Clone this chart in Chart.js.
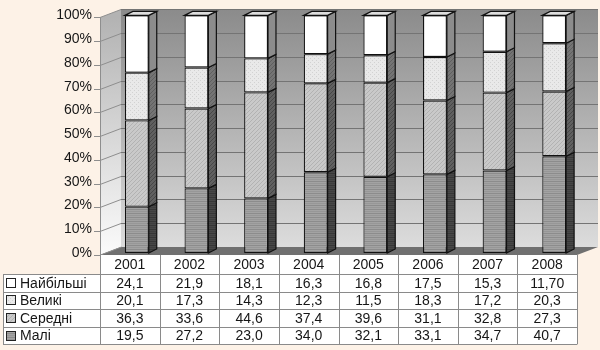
<!DOCTYPE html>
<html>
<head>
<meta charset="utf-8">
<script src="https://cdn.jsdelivr.net/npm/chart.js@4/dist/chart.umd.min.js"></script>
<style>
  html, body { margin: 0; padding: 0; background: #fdf2e7; }
  #wrap { width: 600px; height: 350px; }
</style>
</head>
<body>
<div id="wrap"><canvas id="chart" width="600" height="350"></canvas></div>
<script>
// Дані з діаграми (%, частки за розміром)
const years = ['2001', '2002', '2003', '2004', '2005', '2006', '2007', '2008'];
const seriesNames = ['Малі', 'Середні', 'Великі', 'Найбільші'];
const mali = ['19,5', '27,2', '23,0', '34,0', '32,1', '33,1', '34,7', '40,7'];
const seredni = ['36,3', '33,6', '44,6', '37,4', '39,6', '31,1', '32,8', '27,3'];
const velyki = ['20,1', '17,3', '14,3', '12,3', '11,5', '18,3', '17,2', '20,3'];
const naibilshi = ['24,1', '21,9', '18,1', '16,3', '16,8', '17,5', '15,3', '11,70'];
const yTicks = [0, 10, 20, 30, 40, 50, 60, 70, 80, 90, 100];

const FONT = "'Liberation Sans', Arial, sans-serif";
const toNum = s => Number(s.replace(',', '.'));

// 3D-ефекти: зсув передньої площини, глибина стін і стовпців
const FRONT_DX = 7, FRONT_DY = 2;
const WALL = { dx: 21, dy: 8 };
const BAR = { dx: 8, dy: 4 };

function makePattern(base, line, kind) {
  const c = document.createElement('canvas');
  c.width = 4; c.height = 4;
  const p = c.getContext('2d');
  p.fillStyle = base;
  p.fillRect(0, 0, 4, 4);
  if (!line) return p.createPattern(c, 'repeat');
  p.fillStyle = line;
  if (kind === 'h') {
    p.fillRect(0, 1, 4, 1);
    p.globalAlpha = 0.5;
    p.fillRect(0, 3, 4, 1);
  } else if (kind === 'd') {
    for (let i = 0; i < 4; i++) p.fillRect(i, 3 - i, 1, 1);
  } else {
    p.fillRect(0, 0, 1, 1);
    p.fillRect(2, 2, 1, 1);
  }
  return p.createPattern(c, 'repeat');
}

const frontFill = [
  makePattern('#a3a3a3', '#8c8c8c', 'h'),
  makePattern('#c9c9c9', '#b2b2b2', 'd'),
  makePattern('#e9e9e9', '#d2d2d2', 'p'),
  makePattern('#ffffff')
];
const sideFill = [
  makePattern('#474747', '#363636', 'h'),
  makePattern('#606060', '#474747', 'd'),
  makePattern('#747474', '#5f5f5f', 'd'),
  makePattern('#8c8c8c')
];
const values = [mali, seredni, velyki, naibilshi];

const pseudo3d = {
  id: 'pseudo3d',
  beforeDatasetsDraw(chart) {
    const { ctx, chartArea: a, scales: { y } } = chart;
    const fl = a.left - FRONT_DX, fr = a.right - FRONT_DX;
    const yTop = y.getPixelForValue(100) + FRONT_DY;
    const yBot = y.getPixelForValue(0) + FRONT_DY;
    ctx.save();

    // задня стінка
    let g = ctx.createLinearGradient(0, yTop - WALL.dy, 0, yBot - WALL.dy);
    g.addColorStop(0, '#8b8b8b');
    g.addColorStop(1, '#dcdcdc');
    ctx.fillStyle = g;
    ctx.fillRect(fl + WALL.dx, yTop - WALL.dy, fr - fl, yBot - yTop);

    // бічна стінка
    g = ctx.createLinearGradient(0, yTop, 0, yBot);
    g.addColorStop(0, '#b3b3b3');
    g.addColorStop(1, '#fbfbfb');
    ctx.fillStyle = g;
    ctx.beginPath();
    ctx.moveTo(fl, yTop);
    ctx.lineTo(fl + WALL.dx, yTop - WALL.dy);
    ctx.lineTo(fl + WALL.dx, yBot - WALL.dy);
    ctx.lineTo(fl, yBot);
    ctx.closePath();
    ctx.fill();

    // сітка
    ctx.lineWidth = 1;
    yTicks.forEach(v => {
      const py = Math.round(y.getPixelForValue(v) + FRONT_DY) + 0.5;
      if (v > 0) {
        ctx.strokeStyle = '#747474';
        ctx.beginPath();
        ctx.moveTo(fl + WALL.dx, py - WALL.dy);
        ctx.lineTo(fr + WALL.dx, py - WALL.dy);
        ctx.stroke();
      }
      ctx.strokeStyle = '#8e8e8e';
      ctx.beginPath();
      ctx.moveTo(fl - 6, py);
      ctx.lineTo(fl, py);
      ctx.lineTo(fl + WALL.dx, py - WALL.dy);
      ctx.stroke();
    });

    // підлога
    ctx.fillStyle = '#707070';
    ctx.beginPath();
    ctx.moveTo(fl, yBot);
    ctx.lineTo(fr, yBot);
    ctx.lineTo(fr + WALL.dx, yBot - WALL.dy);
    ctx.lineTo(fl + WALL.dx, yBot - WALL.dy);
    ctx.closePath();
    ctx.fill();

    // вісь
    ctx.strokeStyle = '#8e8e8e';
    ctx.beginPath();
    ctx.moveTo(fl + 0.5, yTop);
    ctx.lineTo(fl + 0.5, yBot);
    ctx.lineTo(fl + WALL.dx + 0.5, yBot - WALL.dy);
    ctx.stroke();
    ctx.restore();
  },

  afterDatasetsDraw(chart) {
    const { ctx } = chart;
    ctx.save();
    ctx.lineWidth = 1.2;
    ctx.strokeStyle = '#111';
    chart.data.datasets.forEach((ds, di) => {
      chart.getDatasetMeta(di).data.forEach(el => {
        const x1 = el.x + el.width / 2;
        const x0 = el.x - el.width / 2;
        const yt = el.y, yb = el.base;
        // бічна грань
        ctx.fillStyle = sideFill[di];
        ctx.beginPath();
        ctx.moveTo(x1, yt);
        ctx.lineTo(x1 + BAR.dx, yt - BAR.dy);
        ctx.lineTo(x1 + BAR.dx, yb - BAR.dy);
        ctx.lineTo(x1, yb);
        ctx.closePath();
        ctx.fill();
        ctx.stroke();
        // верхня грань
        if (di === chart.data.datasets.length - 1) {
          ctx.fillStyle = '#dedede';
          ctx.beginPath();
          ctx.moveTo(x0, yt);
          ctx.lineTo(x0 + BAR.dx, yt - BAR.dy);
          ctx.lineTo(x1 + BAR.dx, yt - BAR.dy);
          ctx.lineTo(x1, yt);
          ctx.closePath();
          ctx.fill();
          ctx.stroke();
        }
      });
    });
    ctx.restore();
  },

  afterDraw(chart) {
    // таблиця даних під діаграмою
    const { ctx, chartArea: a, scales: { x, y } } = chart;
    const colW = (a.right - a.left) / years.length;
    const left = a.left - FRONT_DX;
    const right = left + colW * years.length;
    const top = Math.round(y.getPixelForValue(0) + FRONT_DY);
    const headH = 19, rowH = 17.6;
    const legL = 3;
    const rows = [3, 2, 1, 0];
    const bottom = top + headH + rowH * rows.length;

    ctx.save();
    ctx.fillStyle = '#ffffff';
    ctx.fillRect(left, top, right - left, bottom - top);
    ctx.fillRect(legL, top + headH, left - legL, bottom - top - headH);

    ctx.strokeStyle = '#8a8a8a';
    ctx.lineWidth = 1;
    ctx.beginPath();
    for (let i = 0; i <= years.length; i++) {
      const cx = Math.round(left + colW * i) + 0.5;
      ctx.moveTo(cx, top);
      ctx.lineTo(cx, bottom);
    }
    ctx.moveTo(legL + 0.5, top + headH);
    ctx.lineTo(legL + 0.5, bottom);
    for (let r = 0; r <= rows.length; r++) {
      const ry = Math.round(top + headH + rowH * r) + 0.5;
      ctx.moveTo(r === 0 ? legL : left, ry);
      ctx.lineTo(right, ry);
      if (r > 0) { ctx.moveTo(legL, ry); ctx.lineTo(left, ry); }
    }
    ctx.stroke();

    ctx.font = '14px ' + FONT;
    ctx.fillStyle = '#161616';
    ctx.textAlign = 'center';
    ctx.textBaseline = 'middle';
    years.forEach((yr, i) => {
      const cx = x.getPixelForValue(i) - FRONT_DX;
      ctx.fillText(yr, cx, top + headH / 2 + 1);
      rows.forEach((di, r) => {
        ctx.fillText(values[di][i], cx, top + headH + rowH * r + rowH / 2 + 1);
      });
    });

    ctx.textAlign = 'left';
    rows.forEach((di, r) => {
      const cy = top + headH + rowH * r + rowH / 2;
      ctx.fillStyle = frontFill[di];
      ctx.fillRect(6.5, Math.round(cy) - 4.5, 9, 9);
      ctx.strokeStyle = '#222';
      ctx.strokeRect(6.5, Math.round(cy) - 4.5, 9, 9);
      ctx.fillStyle = '#161616';
      ctx.fillText(seriesNames[di], 20, cy + 1);
    });
    ctx.restore();
  }
};

new Chart(document.getElementById('chart'), {
  type: 'bar',
  data: {
    labels: years,
    datasets: values.map((arr, di) => ({
      label: seriesNames[di],
      data: arr.map(toNum),
      backgroundColor: frontFill[di],
      borderColor: '#111',
      borderWidth: 1.2,
      borderSkipped: false,
      categoryPercentage: 1,
      barPercentage: 0.4
    }))
  },
  options: {
    responsive: false,
    animation: false,
    layout: { padding: { top: 4, bottom: 97, right: 16, left: 0 } },
    plugins: { legend: { display: false }, tooltip: { enabled: false } },
    scales: {
      x: { stacked: true, display: false },
      y: {
        stacked: true,
        min: 0,
        max: 100,
        afterFit: s => { s.width = 107; },
        afterBuildTicks: s => { s.ticks = yTicks.map(v => ({ value: v })); },
        grid: { display: false },
        border: { display: false },
        ticks: {
          padding: 7,
          color: '#161616',
          font: { family: FONT, size: 14 },
          callback: v => v + '%'
        }
      }
    }
  },
  plugins: [pseudo3d]
});
</script>
</body>
</html>
